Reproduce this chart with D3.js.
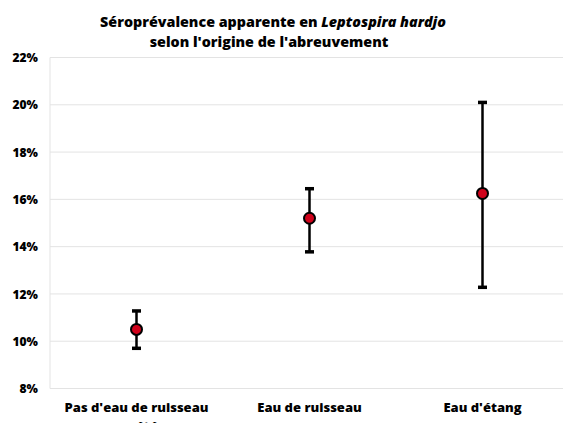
<!DOCTYPE html>
<html>
<head>
<meta charset="utf-8">
<script src="https://cdn.jsdelivr.net/npm/d3@7"></script>
<style>
  body { margin: 0; background: #fff; }
  text { font-family: "Open Sans", Lato, sans-serif; font-weight: 800; fill: #000; }
</style>
</head>
<body>
<div id="chart"></div>
<script>
// Séroprévalence apparente, avec intervalle (min / max)
const categories = ["Pas d'eau de ruisseau en été", "Eau de ruisseau", "Eau d'étang"];
const prevalence = [10.5, 15.2, 16.25];
const lower = [9.7, 13.78, 12.28];
const upper = [11.28, 16.45, 20.1];
const yTicks = [8, 10, 12, 14, 16, 18, 20, 22];

const width = 563, height = 423;
const margin = {top: 57.5, right: -6, bottom: 34.5, left: 50};

const data = categories.map((c, i) => ({cat: c, v: prevalence[i], lo: lower[i], hi: upper[i]}));

const svg = d3.select("#chart")
  .append("svg")
  .attr("width", width)
  .attr("height", height);

const x = d3.scaleBand()
  .domain(categories)
  .range([margin.left, width - margin.right]);

const y = d3.scaleLinear()
  .domain([8, 22])
  .range([height - margin.bottom, margin.top]);

// grille
svg.append("g")
  .selectAll("line")
  .data(yTicks)
  .enter()
  .append("line")
  .attr("x1", margin.left)
  .attr("x2", width)
  .attr("y1", d => y(d))
  .attr("y2", d => y(d))
  .attr("stroke", "#e3e3e3")
  .attr("stroke-width", 1);

svg.append("line")
  .attr("x1", margin.left).attr("x2", margin.left)
  .attr("y1", y(22)).attr("y2", y(8))
  .attr("stroke", "#e3e3e3");

// axe Y
const yAxis = svg.append("g")
  .attr("transform", `translate(${margin.left - 9}, 0)`)
  .call(d3.axisLeft(y).tickValues(yTicks).tickSize(0).tickFormat(d => d + "%"));
yAxis.select(".domain").remove();
yAxis.selectAll("text").attr("font-size", "12px").attr("dy", "0.35em").attr("dx", "0");

// axe X
const xAxis = svg.append("g")
  .attr("transform", `translate(0, ${y(8)})`)
  .call(d3.axisBottom(x).tickSize(0));
xAxis.select(".domain").remove();
xAxis.selectAll("text").remove();
xAxis.selectAll(".tick").append("text")
  .attr("font-size", "13px")
  .attr("text-anchor", "middle")
  .each(function(d) {
    const t = d3.select(this);
    const lines = d === categories[0] ? ["Pas d'eau de ruisseau", "en été"] : [d];
    lines.forEach((l, i) => {
      t.append("tspan").attr("x", 0).attr("y", 23 + i * 19).text(l);
    });
  });

// barres d'erreur
const g = svg.append("g");
const cx = d => x(d.cat) + x.bandwidth() / 2;

g.selectAll(".err")
  .data(data)
  .enter()
  .append("line")
  .attr("class", "err")
  .attr("x1", cx).attr("x2", cx)
  .attr("y1", d => y(d.lo)).attr("y2", d => y(d.hi))
  .attr("stroke", "#000").attr("stroke-width", 2.5);

["lo", "hi"].forEach(k => {
  g.selectAll(".cap-" + k)
    .data(data)
    .enter()
    .append("line")
    .attr("class", "cap-" + k)
    .attr("x1", d => cx(d) - 4.5).attr("x2", d => cx(d) + 4.5)
    .attr("y1", d => y(d[k])).attr("y2", d => y(d[k]))
    .attr("stroke", "#000").attr("stroke-width", 3.5);
});

g.selectAll(".pt")
  .data(data)
  .enter()
  .append("circle")
  .attr("class", "pt")
  .attr("cx", cx)
  .attr("cy", d => y(d.v))
  .attr("r", 5.5)
  .attr("fill", "#d0021b")
  .attr("stroke", "#000")
  .attr("stroke-width", 2);

// titre
const title = svg.append("text")
  .attr("x", 273)
  .attr("y", 27)
  .attr("text-anchor", "middle")
  .attr("font-size", "14.3px");
title.append("tspan").text("Séroprévalence apparente en ");
title.append("tspan").attr("font-style", "italic").text("Leptospira hardjo");
svg.append("text")
  .attr("x", 269)
  .attr("y", 47)
  .attr("text-anchor", "middle")
  .attr("font-size", "14.3px")
  .text("selon l'origine de l'abreuvement");
</script>
</body>
</html>
